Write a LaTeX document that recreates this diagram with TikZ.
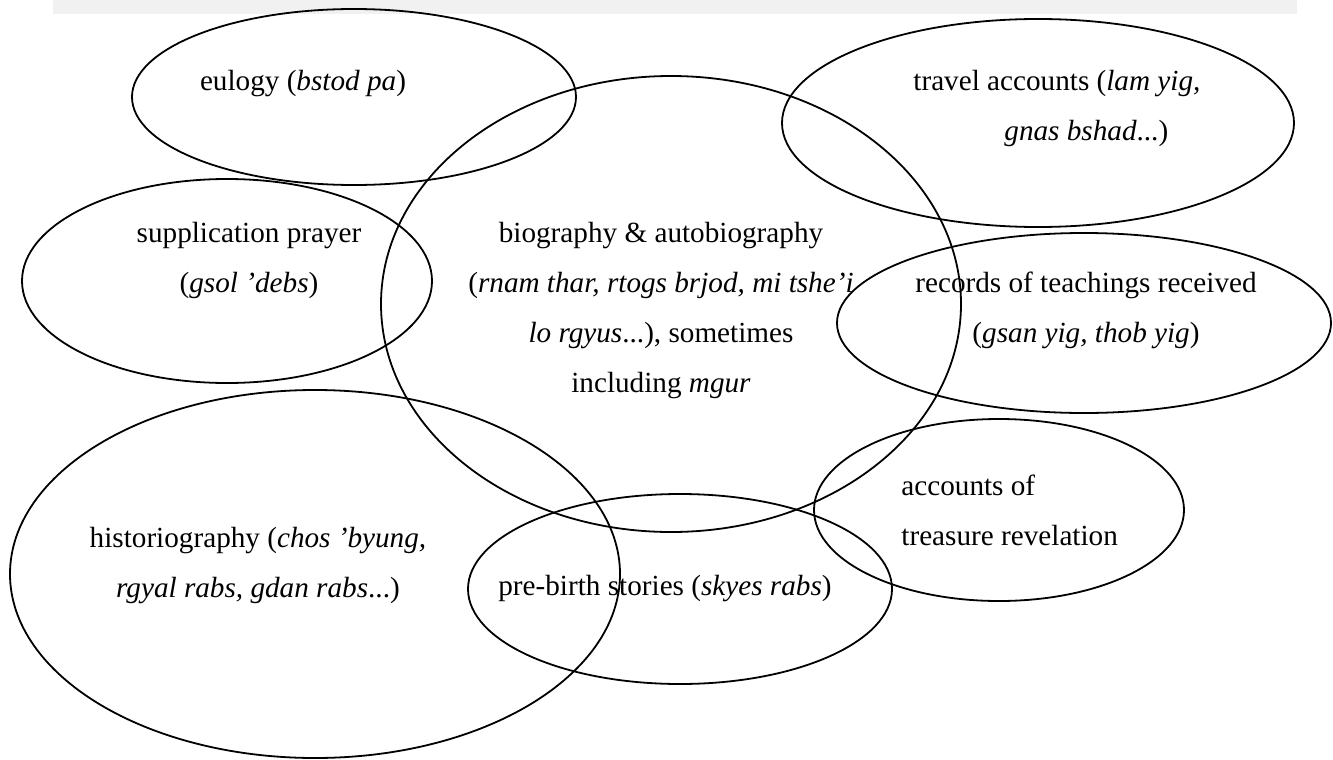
\documentclass[tikz,border=0pt]{standalone}
\usepackage{fontspec}
\setmainfont{Liberation Serif}
\definecolor{bandgray}{RGB}{241,241,241}

\begin{document}
\begin{tikzpicture}[x=0.5pt, y=-0.5pt, inner sep=0pt, font={\fontsize{14.6pt}{25pt}\selectfont}]
            \useasboundingbox (0,0) rectangle (1333,760);
            \fill[bandgray] (53,0) rectangle (1297,14);

            \foreach \cx/\cy/\rx/\ry in {354/97/222/88, 1038/123/256/104, 227/281/205/102, 671/304/290/228,
                1084/323/247/90, 999/510/185/91, 680/589/212/95, 315/574/305/184} {
            \draw[line width=.9pt,black] (\cx,\cy) ellipse [x radius=\rx, y radius=\ry];}

            \node (eulogy) [anchor=base] at (303,90) {eulogy (\textit{bstod pa})};
            \node (travel) [anchor=base west, align=left] at (913,140) {travel accounts (\textit{lam yig,}\\\hspace*{45.5pt}\textit{gnas bshad}...)};
            \node (supplication) [anchor=base, align=center] at (249,292) {supplication prayer\\(\textit{gsol ’debs})};
            \node (biography) [anchor=base, align=center] at (661,392) {biography \& autobiography\\(\textit{rnam thar, rtogs brjod, mi tshe’i}\\\textit{lo rgyus}...), sometimes\\including \textit{mgur}};
            \node (records) [anchor=base, align=center] at (1086,342) {records of teachings received\\(\textit{gsan yig, thob yig})};
            \node (treasure) [anchor=base west, align=left] at (901,545) {accounts of\\treasure revelation};
            \node (prebirth) [anchor=base] at (665,595) {pre-birth stories (\textit{skyes rabs})};
            \node (historiography) [anchor=base, align=center] at (258,597) {historiography (\textit{chos ’byung,}\\\textit{rgyal rabs, gdan rabs}...)};

            % labels sit inside their ellipses
\end{tikzpicture}
\end{document}
